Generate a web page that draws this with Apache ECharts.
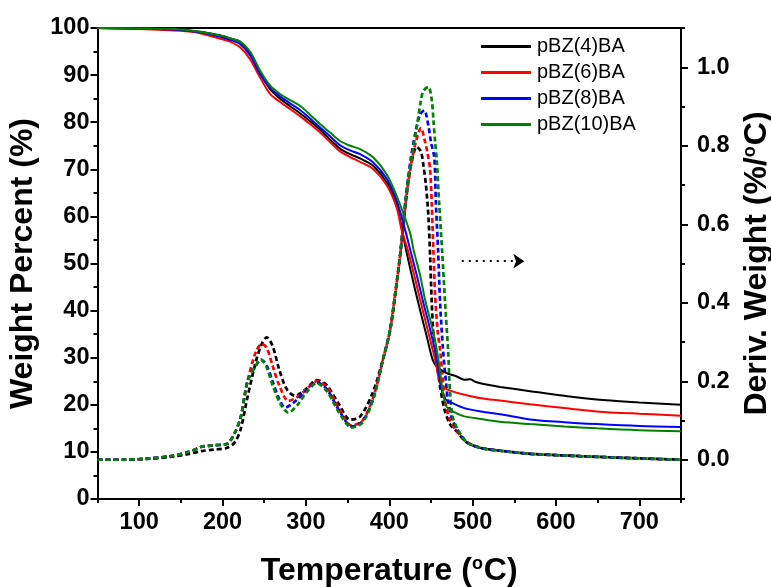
<!DOCTYPE html>
<html>
<head>
<meta charset="utf-8">
<script src="https://cdn.jsdelivr.net/npm/echarts@6/dist/echarts.min.js"></script>
<style>html,body{margin:0;padding:0;background:#fff;}#c{width:771px;height:587px;}</style>
</head>
<body>
<div id="c"></div>
<script>
// ---- Data ----
const names = ['pBZ(4)BA', 'pBZ(6)BA', 'pBZ(8)BA', 'pBZ(10)BA'];
const colors = ['#000000', '#ff0000', '#0000ff', '#008000'];

// TG curves: temperature (°C) and weight percent (%)
const tgT4 = [50,100,150,173,200,209,221,233,245,257,269,281,293,305,317,329,341,353,365,381,397,409,415,420,427,435,445,452,457,463,469,481,490,497,503,513,533,569,610,649,700,750];
const tgW4 = [100,99.9,99.6,99.2,98.3,97.8,97.1,94.8,90.6,87,85,83.4,81.9,80.2,78.4,76.3,74.4,73.2,72.3,70.7,67.2,62.3,57.5,53,47.5,41.5,34.5,29.6,28.1,27.3,26.7,26,25.3,25.4,24.9,24.4,23.8,22.9,21.9,21.1,20.5,20];
const tgT6 = [50,100,150,173,200,209,221,233,245,257,269,281,293,305,317,329,341,353,365,381,397,409,415,422,430,437,447,455,461,467,473,489,510,533,569,610,649,700,750];
const tgW6 = [100,99.8,99.4,98.9,97.6,97.1,95.9,93.4,89.5,86,84.3,82.8,81.3,79.6,77.8,75.8,73.8,72.6,71.6,70,66.6,61.8,57,53,47.5,42.3,35.3,29.6,24.6,23.5,23,22.2,21.4,20.9,20.1,19.3,18.6,18.1,17.7];
const tgT8 = [50,100,150,173,200,209,221,233,245,257,269,281,293,305,317,329,341,353,365,381,397,409,420,425,433,440,450,457,462,466,473,490,510,533,569,610,649,700,750];
const tgW8 = [100,99.9,99.6,99.1,98.0,97.5,96.6,94.2,90.2,87.3,85.5,84.0,82.6,80.8,78.9,77.0,75.1,74.0,73.2,71.4,68,63.3,56.5,53,47.5,42.3,35.3,29.6,24,21.5,20.6,19.3,18.6,18,16.9,16.3,15.9,15.5,15.3];
const tgT10 = [50,100,150,173,200,209,221,233,245,257,269,281,293,305,317,329,341,353,365,381,397,409,425,429,437,443,453,459,464,468,473,489,510,533,569,610,649,700,750];
const tgW10 = [100,99.9,99.7,99.2,98.3,97.8,97.1,95.0,91.0,87.8,86.0,84.7,83.5,81.6,79.6,77.8,76.0,75.0,74.3,72.5,68.9,64.3,56.5,53,47.5,42.3,35.3,29.6,23,19.8,18.9,17.6,17.0,16.4,15.9,15.4,15.0,14.6,14.4];

// DTG curves: temperature (°C) and derivative weight (%/°C)
const dtgT4 = [50,80,110,140,160,175,190,205,215,222,230,240,247,253,260,268,277,287,300,313,325,340,353,365,380,393,401,407,413,420,426,433,438,441,444,447,449,451,453,456,460,466,473,480,493,510,533,570,620,680,750];
const dtgD4 = [0,0,0.002,0.008,0.015,0.022,0.026,0.03,0.045,0.08,0.16,0.25,0.295,0.312,0.29,0.23,0.18,0.163,0.18,0.203,0.19,0.14,0.102,0.11,0.17,0.26,0.33,0.42,0.52,0.66,0.75,0.797,0.785,0.75,0.7,0.62,0.52,0.4,0.32,0.27,0.2,0.13,0.09,0.074,0.044,0.03,0.023,0.015,0.01,0.005,0];
const dtgT6 = [50,80,110,140,160,175,190,205,215,222,230,240,247,253,260,268,279,290,300,313,325,340,355,368,381,393,401,407,413,420,426,432,438,443,446,449,451,453,455,458,461,464,467,473,480,493,510,533,570,620,680,750];
const dtgD6 = [0,0,0.003,0.01,0.02,0.033,0.037,0.04,0.07,0.11,0.2,0.275,0.295,0.285,0.24,0.19,0.15,0.16,0.178,0.2,0.185,0.13,0.087,0.1,0.16,0.26,0.33,0.42,0.52,0.66,0.75,0.81,0.845,0.81,0.78,0.74,0.65,0.53,0.42,0.33,0.28,0.21,0.15,0.1,0.076,0.045,0.03,0.023,0.015,0.01,0.005,0];
const dtgT8 = [50,80,110,140,160,175,190,205,215,222,230,240,246,253,260,268,275,285,300,313,325,340,355,368,381,393,401,407,413,420,426,432,437,442,447,450,454,456,458.6,461,464.6,468,470.6,476,482,493,510,533,570,620,680,750];
const dtgD8 = [0,0,0.003,0.01,0.02,0.033,0.037,0.04,0.07,0.11,0.2,0.24,0.255,0.24,0.2,0.155,0.133,0.145,0.175,0.197,0.18,0.125,0.085,0.098,0.158,0.26,0.33,0.42,0.52,0.67,0.77,0.84,0.88,0.89,0.85,0.81,0.77,0.65,0.533,0.4,0.278,0.2,0.15,0.1,0.076,0.045,0.03,0.023,0.015,0.01,0.005,0];
const dtgT10 = [50,80,110,140,160,175,190,205,215,222,230,240,246,253,260,270,279,290,300,313,325,340,355,368,381,393,401,407,413,420,426,433,438,441,447,451,453,455,457,460,463.4,467,470.6,473,476,482,493,510,533,570,620,680,750];
const dtgD10 = [0,0,0.003,0.01,0.02,0.033,0.037,0.04,0.07,0.11,0.2,0.24,0.255,0.235,0.19,0.14,0.12,0.14,0.17,0.195,0.175,0.12,0.082,0.095,0.155,0.26,0.33,0.42,0.52,0.67,0.76,0.848,0.916,0.94,0.95,0.916,0.865,0.81,0.763,0.65,0.533,0.4,0.278,0.17,0.11,0.078,0.045,0.03,0.023,0.015,0.01,0.005,0];

// Axis ticks
const xMajor = [100,200,300,400,500,600,700];
const xMinor = [50,150,250,350,450,550,650,750];
const rMajor = [0,0.2,0.4,0.6,0.8,1.0];
const rMinor = [-0.1,0.1,0.3,0.5,0.7,0.9,1.1];
// Annotation arrow (data coordinates: °C, %)
const arrowFrom = [487, 50.5];
const arrowTo = [562, 50.5];

const tgT = [tgT4, tgT6, tgT8, tgT10];
const tgW = [tgW4, tgW6, tgW8, tgW10];
const dtgT = [dtgT4, dtgT6, dtgT8, dtgT10];
const dtgD = [dtgD4, dtgD6, dtgD8, dtgD10];
const zip = (a, b) => a.map((v, i) => [v, b[i]]);

const FONT = 'Liberation Sans, Arial, sans-serif';
const AXC = '#000';
const labelStyle = {color: '#000', fontSize: 23.5, fontWeight: 'bold', fontFamily: FONT};
const nameStyle = {
  color: '#000', fontSize: 32, fontWeight: 'bold', fontFamily: FONT,
  rich: {s: {fontSize: 18, fontWeight: 'bold', fontFamily: FONT, color: '#000', verticalAlign: 'top', padding: [0, 1, 15, 0]}}
};

const series = [];
names.forEach((n, i) => {
  const s = {
    name: n, type: 'line', xAxisIndex: 0, yAxisIndex: 0,
    data: zip(tgT[i], tgW[i]), symbol: 'none', smooth: 0.3,
    lineStyle: {color: colors[i], width: 2}, itemStyle: {color: colors[i]}, z: 3
  };
  if (i === 0) {
    s.markLine = {
      silent: true, symbol: ['none', 'arrow'], symbolSize: 11,
      lineStyle: {color: '#000', width: 2, type: [2, 5]},
      label: {show: false},
      data: [[{coord: arrowFrom}, {coord: arrowTo}]]
    };
  }
  series.push(s);
});
names.forEach((n, i) => {
  series.push({
    name: n + ' DTG', type: 'line', xAxisIndex: 0, yAxisIndex: 1,
    data: zip(dtgT[i], dtgD[i]), symbol: 'none', smooth: 0.3,
    lineStyle: {color: colors[i], width: 2.7, type: [5, 3]}, itemStyle: {color: colors[i]}, z: 2
  });
});

const chart = echarts.init(document.getElementById('c'), null, {renderer: 'canvas'});
chart.setOption({
  backgroundColor: '#fff',
  animation: false,
  grid: {left: 97.5, right: 90, top: 28, bottom: 88, containLabel: false, outerBoundsMode: 'none'},
  legend: {
    data: names, orient: 'vertical', left: 481, top: 36, padding: 0,
    icon: 'rect', itemWidth: 50, itemHeight: 3, itemGap: 5,
    textStyle: {color: '#000', fontSize: 20, fontFamily: FONT, lineHeight: 21, padding: [0, 0, 0, 1]}
  },
  xAxis: [
    {
      type: 'value', min: 50, max: 750, position: 'bottom',
      name: 'Temperature ({s|o}C)', nameLocation: 'middle', nameGap: 56, nameTextStyle: nameStyle,
      axisLine: {show: true, onZero: false, lineStyle: {color: AXC, width: 2}},
      axisTick: {show: true, customValues: xMajor, length: 7, lineStyle: {color: AXC, width: 2}},
      axisLabel: Object.assign({customValues: xMajor, margin: 12}, labelStyle),
      splitLine: {show: false}
    },
    {
      type: 'value', min: 50, max: 750, position: 'bottom',
      axisLine: {show: false},
      axisTick: {show: true, customValues: xMinor, length: 4, lineStyle: {color: AXC, width: 2}},
      axisLabel: {show: false}, splitLine: {show: false}
    },
    {
      type: 'value', min: 50, max: 750, position: 'top',
      axisLine: {show: true, onZero: false, lineStyle: {color: AXC, width: 2}},
      axisTick: {show: false}, axisLabel: {show: false}, splitLine: {show: false}
    }
  ],
  yAxis: [
    {
      type: 'value', min: 0, max: 100, interval: 10, position: 'left',
      name: 'Weight Percent (%)', nameLocation: 'middle', nameGap: 47, nameTextStyle: nameStyle,
      axisLine: {show: true, onZero: false, lineStyle: {color: AXC, width: 2}},
      axisTick: {show: true, length: 7, lineStyle: {color: AXC, width: 2}},
      minorTick: {show: true, splitNumber: 2, length: 4, lineStyle: {color: AXC, width: 2}},
      axisLabel: Object.assign({margin: 8}, labelStyle),
      splitLine: {show: false}
    },
    {
      type: 'value', min: -0.1, max: 1.1, position: 'right',
      name: 'Deriv. Weight (%/{s|o}C)', nameLocation: 'middle', nameGap: 55, nameTextStyle: nameStyle,
      axisLine: {show: true, onZero: false, lineStyle: {color: AXC, width: 2}},
      axisTick: {show: true, customValues: rMajor, length: 7, lineStyle: {color: AXC, width: 2}},
      axisLabel: Object.assign({customValues: rMajor, margin: 16, formatter: v => v.toFixed(1)}, labelStyle),
      splitLine: {show: false}
    },
    {
      type: 'value', min: -0.1, max: 1.1, position: 'right',
      axisLine: {show: false},
      axisTick: {show: true, customValues: rMinor, length: 4, lineStyle: {color: AXC, width: 2}},
      axisLabel: {show: false}, splitLine: {show: false}
    }
  ],
  series: series
});
</script>
</body>
</html>
